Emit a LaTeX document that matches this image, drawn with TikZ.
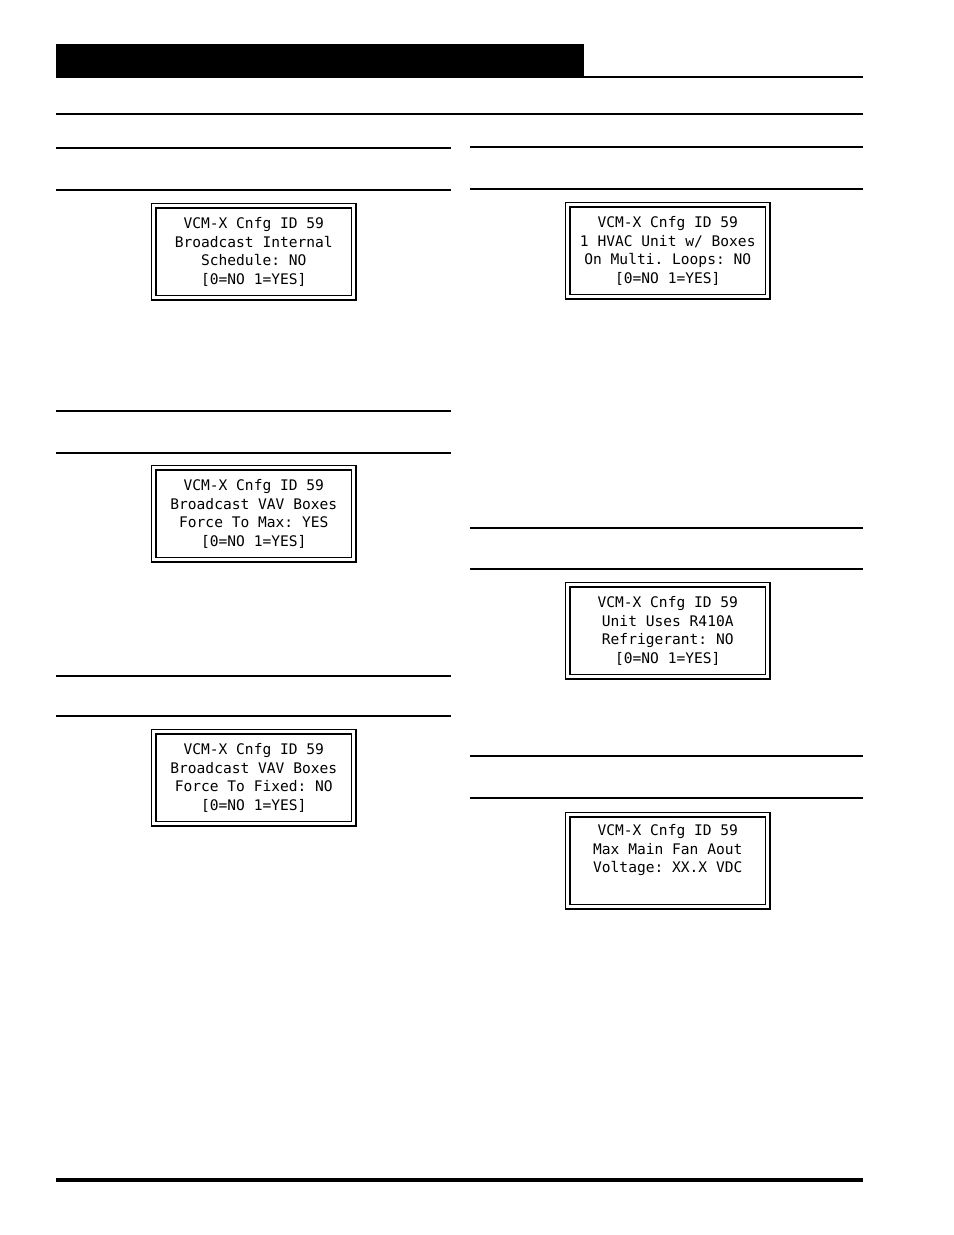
\documentclass[tikz,border=0pt]{standalone}
\usepackage{fontspec}
\setmonofont{DejaVu Sans Mono}
\usetikzlibrary{positioning}

\tikzset{
  lcd/.style={draw, line width=0.9pt, double, double distance=1.6pt,
    minimum width=4.0cm, minimum height=1.84cm, anchor=north west,
    font=\ttfamily\fontsize{8.3}{10.5}\selectfont, align=center, inner sep=0pt},
  rule/.style={line width=1.6pt},
  thinrule/.style={line width=1.2pt}
}

\begin{document}
\begin{tikzpicture}[x=0.02cm, y=-0.02cm]
\useasboundingbox (0,0) rectangle (954,1235);

% Header
\fill (56,44) rectangle (584,78);
\draw[rule] (56,77) -- (863,77);
\draw[rule] (56,114) -- (863,114);

% Left column rules
\foreach \y in {148,190,411,453,676,716}
  \draw[thinrule] (56,\y) -- (451,\y);
% Right column rules
\foreach \y in {147,189,528,569,756,798}
  \draw[thinrule] (470,\y) -- (863,\y);

% Bottom rule
\draw[line width=2pt] (56,1180) -- (863,1180);

% Left displays
\node (schedule) [lcd] at (153,205) {VCM-X Cnfg ID 59\\Broadcast Internal\\Schedule: NO\\{[0=NO  1=YES]}};
\node (forcemax) [lcd] at (153,467) {VCM-X Cnfg ID 59\\Broadcast VAV Boxes\\Force To Max: YES\\{[0=NO  1=YES]}};
\node (forcefixed) [lcd] at (153,731) {VCM-X Cnfg ID 59\\Broadcast VAV Boxes\\Force To Fixed: NO\\{[0=NO  1=YES]}};

% Right displays
\node (multiloop) [lcd] at (567,204) {VCM-X Cnfg ID 59\\1 HVAC Unit w/ Boxes\\On Multi. Loops: NO\\{[0=NO  1=YES]}};
\node (refrig) [lcd] at (567,584) {VCM-X Cnfg ID 59\\Unit Uses R410A\\Refrigerant: NO\\{[0=NO  1=YES]}};
\node (fanaout) [lcd] at (567,814) {VCM-X Cnfg ID 59\\Max Main Fan Aout\\Voltage:  XX.X VDC\\\strut};

\end{tikzpicture}
\end{document}
